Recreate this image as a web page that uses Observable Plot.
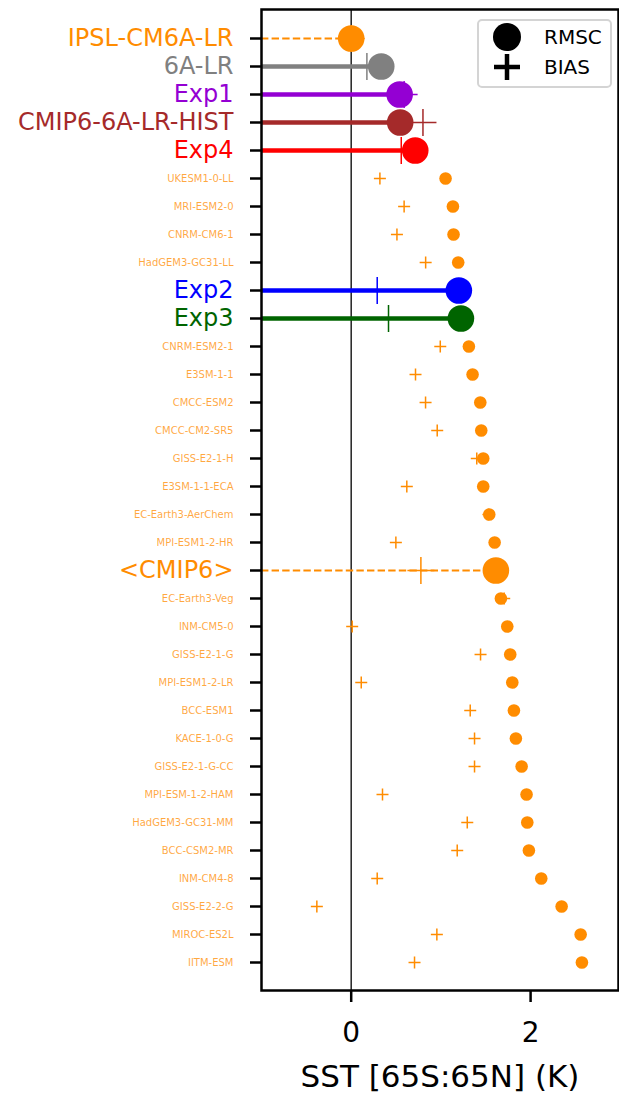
<!DOCTYPE html>
<html>
<head>
<meta charset="utf-8">
<script src="https://cdn.jsdelivr.net/npm/d3@7"></script>
<script src="https://cdn.jsdelivr.net/npm/@observablehq/plot@0.6"></script>
<style>
  html, body { margin: 0; padding: 0; background: #fff; }
  #wrap { position: relative; width: 619px; height: 1101px; font-family: "DejaVu Sans", sans-serif; }
  #legend { position: absolute; left: 477px; top: 19px; width: 131px; height: 65px;
    border: 2px solid #d4d4d4; border-radius: 5px; background: rgba(255,255,255,0.85); }
</style>
</head>
<body>
<div id="wrap"></div>
<script>
// ---- data ----
const names = ["IPSL-CM6A-LR","6A-LR","Exp1","CMIP6-6A-LR-HIST","Exp4","UKESM1-0-LL","MRI-ESM2-0","CNRM-CM6-1","HadGEM3-GC31-LL","Exp2","Exp3","CNRM-ESM2-1","E3SM-1-1","CMCC-ESM2","CMCC-CM2-SR5","GISS-E2-1-H","E3SM-1-1-ECA","EC-Earth3-AerChem","MPI-ESM1-2-HR","<CMIP6>","EC-Earth3-Veg","INM-CM5-0","GISS-E2-1-G","MPI-ESM1-2-LR","BCC-ESM1","KACE-1-0-G","GISS-E2-1-G-CC","MPI-ESM-1-2-HAM","HadGEM3-GC31-MM","BCC-CSM2-MR","INM-CM4-8","GISS-E2-2-G","MIROC-ES2L","IITM-ESM"];
const rmsc = [0.0,0.335,0.54,0.546,0.714,1.052,1.134,1.141,1.193,1.20,1.223,1.312,1.353,1.439,1.45,1.472,1.472,1.539,1.599,1.613,1.669,1.74,1.773,1.796,1.814,1.836,1.90,1.955,1.963,1.981,2.119,2.346,2.558,2.572];
const bias = [0.0,0.175,0.59,0.80,0.558,0.32,0.59,0.51,0.83,0.29,0.416,0.993,0.717,0.829,0.959,1.40,0.62,1.53,0.498,0.777,1.706,0.011,1.442,0.112,1.327,1.375,1.375,0.349,1.294,1.182,0.29,-0.383,0.955,0.706];
const xDomain = [-1, 2.98];
const xTicks = [0, 2];
const xLabel = "SST [65S:65N] (K)";
const legendItems = ["RMSC", "BIAS"];

// ---- styles ----
const highlight = {
  "IPSL-CM6A-LR": "darkorange",
  "6A-LR": "gray",
  "Exp1": "darkviolet",
  "CMIP6-6A-LR-HIST": "brown",
  "Exp4": "red",
  "Exp2": "blue",
  "Exp3": "darkgreen",
  "<CMIP6>": "darkorange"
};
const dashed = new Set(["IPSL-CM6A-LR", "<CMIP6>"]);
const modelColor = "darkorange";

const rows = names.map((n, i) => ({
  name: n, rmsc: rmsc[i], bias: bias[i],
  big: n in highlight,
  color: highlight[n] || modelColor
}));
const bigRows = rows.filter(d => d.big);
const smallRows = rows.filter(d => !d.big);

const plusSymbol = {
  draw(ctx, size) {
    const r = Math.sqrt(size / Math.PI);
    ctx.moveTo(-r, 0); ctx.lineTo(r, 0);
    ctx.moveTo(0, -r); ctx.lineTo(0, r);
  }
};

const chart = Plot.plot({
  width: 619,
  height: 1101,
  marginLeft: 261,
  marginRight: 1,
  marginTop: 9,
  marginBottom: 111,
  style: { fontFamily: "DejaVu Sans, sans-serif", background: "white", overflow: "visible" },
  x: { domain: xDomain, axis: null },
  y: { type: "point", domain: names, padding: 1, axis: null },
  color: { type: "identity" },
  marks: [
    Plot.ruleX([0], { stroke: "#222", strokeWidth: 1.5 }),
    // lines from left frame to RMSC
    Plot.ruleY(bigRows.filter(d => !dashed.has(d.name)), { y: "name", x1: xDomain[0], x2: "rmsc", stroke: "color", strokeWidth: 4.5 }),
    Plot.ruleY(bigRows.filter(d => dashed.has(d.name)), { y: "name", x1: xDomain[0], x2: "rmsc", stroke: "color", strokeWidth: 2, strokeDasharray: "7.4,3.2" }),
    // BIAS plus markers
    Plot.dot(smallRows, { x: "bias", y: "name", symbol: plusSymbol, r: 6, stroke: "color", fill: "none", strokeWidth: 1.5 }),
    Plot.dot(bigRows, { x: "bias", y: "name", symbol: plusSymbol, r: 13.5, stroke: "color", fill: "none", strokeWidth: 1.5 }),
    // RMSC circles
    Plot.dot(smallRows, { x: "rmsc", y: "name", r: 6.3, fill: "color", stroke: "none" }),
    Plot.dot(bigRows, { x: "rmsc", y: "name", r: 13.3, fill: "color", stroke: "none" }),
    // y tick labels
    Plot.text(bigRows, { frameAnchor: "left", y: "name", text: "name", dx: -28, textAnchor: "end",
      fill: "color", fontSize: 24 }),
    Plot.text(smallRows, { frameAnchor: "left", y: "name", text: "name", dx: -28, textAnchor: "end",
      fill: "color", fillOpacity: 0.75, fontSize: 10 }),
    Plot.axisY({ tickSize: 11, tickFormat: () => "", strokeWidth: 2.5, label: null }),
    Plot.axisX({ ticks: xTicks, tickSize: 12, tickPadding: 20, fontSize: 28, strokeWidth: 2.5, label: null, tickFormat: d3.format("d"), fill: "black" }),
    Plot.text([xLabel], { frameAnchor: "bottom", dy: 96, text: d => d, fontSize: 31, fill: "black" }),
    Plot.frame({ stroke: "black", strokeWidth: 2.5 })
  ]
});

const wrap = document.getElementById("wrap");
wrap.appendChild(chart);

// legend
const legend = document.createElement("div");
legend.id = "legend";
const ns = "http://www.w3.org/2000/svg";
const lsvg = document.createElementNS(ns, "svg");
lsvg.setAttribute("width", 131); lsvg.setAttribute("height", 65);
const circ = document.createElementNS(ns, "circle");
circ.setAttribute("cx", 28); circ.setAttribute("cy", 16); circ.setAttribute("r", 14);
circ.setAttribute("fill", "black");
lsvg.appendChild(circ);
const plus = document.createElementNS(ns, "path");
plus.setAttribute("d", "M15,46H41M28,33V59");
plus.setAttribute("stroke", "black"); plus.setAttribute("stroke-width", 4.5);
lsvg.appendChild(plus);
legendItems.forEach((t, i) => {
  const tx = document.createElementNS(ns, "text");
  tx.setAttribute("x", 65); tx.setAttribute("y", 16 + i * 30);
  tx.setAttribute("dy", "0.35em");
  tx.setAttribute("font-size", 20);
  tx.setAttribute("font-family", "DejaVu Sans, sans-serif");
  tx.textContent = t;
  lsvg.appendChild(tx);
});
legend.appendChild(lsvg);
wrap.appendChild(legend);
</script>
</body>
</html>
